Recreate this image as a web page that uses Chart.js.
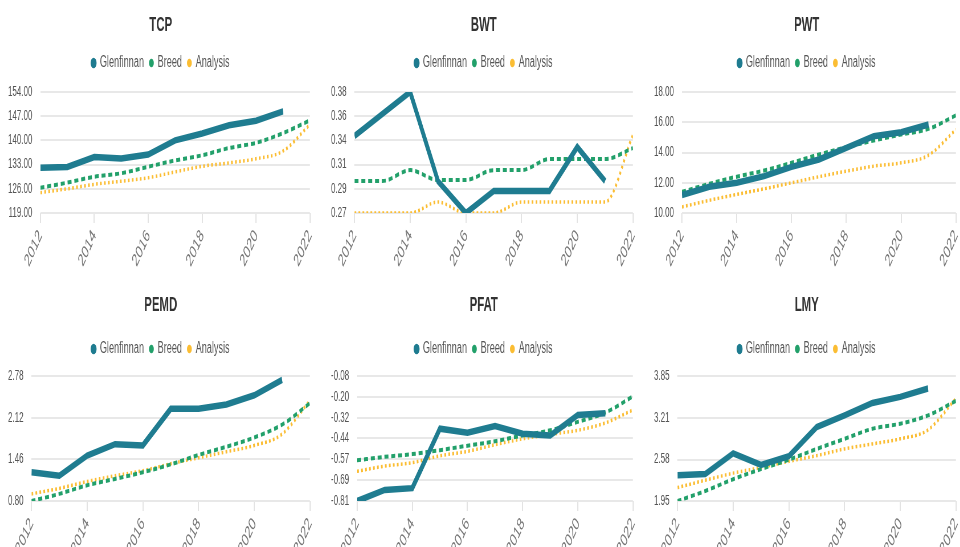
<!DOCTYPE html>
<html lang="en">
<head>
    <meta charset="UTF-8">
    <title>Trait trends</title>
    <script src="https://cdn.jsdelivr.net/npm/chart.js@4.4.1/dist/chart.umd.min.js"></script>
    <style>
        body {
            margin: 0;
            background: #fff;
            width: 960px;
            height: 547px;
            overflow: hidden;
            position: relative;
        }
        /* charts were drawn wide and squeezed horizontally, like the original export */
        .panel {
            position: absolute;
            width: 564px;
            transform: scaleX(0.57);
            transform-origin: 0 0;
        }
        .top { top: 0; height: 274px; }
        .bottom { top: 280px; height: 282px; }
    </style>
</head>
<body>
    <div class="panel top" style="left:0"><canvas id="tcpChart"></canvas></div>
    <div class="panel top" style="left:322.5px"><canvas id="bwtChart"></canvas></div>
    <div class="panel top" style="left:645.5px"><canvas id="pwtChart"></canvas></div>
    <div class="panel bottom" style="left:0"><canvas id="pemdChart"></canvas></div>
    <div class="panel bottom" style="left:322.5px"><canvas id="pfatChart"></canvas></div>
    <div class="panel bottom" style="left:645.5px"><canvas id="lmyChart"></canvas></div>

    <script>
        const years = [2012, 2013, 2014, 2015, 2016, 2017, 2018, 2019, 2020, 2021, 2022];
        const seriesNames = ['Glenfinnan', 'Breed', 'Analysis'];

        // TCP
        const tcpGlen = [132.1, 132.3, 135.2, 134.8, 135.9, 140.0, 142.0, 144.4, 145.7, 148.4];
        const tcpBreed = [126.3, 127.8, 129.5, 130.5, 132.4, 134.2, 135.7, 137.8, 139.3, 142.1, 145.8];
        const tcpAnalysis = [124.9, 126.0, 127.3, 128.2, 129.2, 130.9, 132.5, 133.5, 134.7, 136.9, 144.6];
        const tcpTicks = [119, 126, 133, 140, 147, 154];

        // BWT
        const bwtGlen = [0.340, 0.360, 0.380, 0.299, 0.270, 0.290, 0.290, 0.290, 0.330, 0.299];
        const bwtBreed = [0.299, 0.299, 0.309, 0.300, 0.300, 0.309, 0.309, 0.319, 0.319, 0.319, 0.329];
        const bwtAnalysis = [0.270, 0.270, 0.270, 0.280, 0.270, 0.270, 0.280, 0.280, 0.280, 0.280, 0.341];
        const bwtTicks = [0.27, 0.292, 0.314, 0.336, 0.358, 0.38];

        // PWT
        const pwtGlen = [11.19, 11.73, 12.0, 12.44, 13.05, 13.54, 14.31, 15.08, 15.34, 15.85];
        const pwtBreed = [11.4, 11.93, 12.4, 12.81, 13.32, 13.87, 14.35, 14.79, 15.19, 15.56, 16.46];
        const pwtAnalysis = [10.4, 10.84, 11.23, 11.6, 12.0, 12.4, 12.77, 13.1, 13.32, 13.82, 15.52];
        const pwtTicks = [10, 12, 14, 16, 18];

        // PEMD
        const pemdGlen = [1.255, 1.20, 1.52, 1.70, 1.68, 2.26, 2.26, 2.33, 2.475, 2.72];
        const pemdBreed = [0.80, 0.913, 1.05, 1.15, 1.255, 1.38, 1.53, 1.66, 1.806, 2.01, 2.35];
        const pemdAnalysis = [0.913, 1.00, 1.11, 1.20, 1.28, 1.39, 1.485, 1.58, 1.68, 1.86, 2.39];
        const pemdTicks = [0.80, 1.46, 2.12, 2.78];

        // PFAT
        const pfatGlen = [-0.81, -0.745, -0.735, -0.388, -0.411, -0.372, -0.417, -0.427, -0.308, -0.298];
        const pfatBreed = [-0.572, -0.552, -0.536, -0.513, -0.487, -0.461, -0.427, -0.397, -0.348, -0.294, -0.199];
        const pfatAnalysis = [-0.636, -0.606, -0.586, -0.546, -0.520, -0.481, -0.447, -0.421, -0.397, -0.354, -0.278];
        const pfatTicks = [-0.81, -0.6883, -0.5667, -0.4449, -0.3233, -0.2017, -0.08];

        // LMY
        const lmyGlen = [2.343, 2.36, 2.675, 2.497, 2.63, 3.074, 3.252, 3.441, 3.533, 3.661];
        const lmyBreed = [1.95, 2.103, 2.282, 2.435, 2.578, 2.742, 2.895, 3.048, 3.125, 3.252, 3.472];
        const lmyAnalysis = [2.154, 2.267, 2.374, 2.461, 2.553, 2.64, 2.742, 2.818, 2.895, 3.033, 3.508];
        const lmyTicks = [1.95, 2.581, 3.213, 3.85];

        const colors = ['#1f7c90', '#22a06a', '#fbbd33'];

        Chart.defaults.font.family = "Arial, 'Liberation Sans', sans-serif";
        Chart.defaults.color = '#666';
        Chart.defaults.animation = false;

        // extra room under the legend
        function legendGap(extra) {
            return {
                id: 'legendGap',
                beforeInit(chart) {
                    const fit = chart.legend.fit;
                    chart.legend.fit = function () {
                        fit.bind(chart.legend)();
                        this.height += extra;
                    };
                }
            };
        }

        function toPoints(values) {
            return values.map((v, i) => ({ x: years[i], y: v }));
        }

        function makeChart(id, title, glen, breed, analysis, ticks, titleGap, belowLegend) {
            const ctx = document.getElementById(id).getContext('2d');
            return new Chart(ctx, {
                type: 'line',
                plugins: [legendGap(belowLegend)],
                data: {
                    datasets: [
                        {
                            label: seriesNames[0],
                            data: toPoints(glen),
                            borderColor: colors[0],
                            backgroundColor: colors[0],
                            borderWidth: 6.5,
                            pointRadius: 0,
                            tension: 0
                        },
                        {
                            label: seriesNames[1],
                            data: toPoints(breed),
                            borderColor: colors[1],
                            backgroundColor: colors[1],
                            borderWidth: 4,
                            borderDash: [7, 5],
                            pointRadius: 0,
                            cubicInterpolationMode: 'monotone'
                        },
                        {
                            label: seriesNames[2],
                            data: toPoints(analysis),
                            borderColor: colors[2],
                            backgroundColor: colors[2],
                            borderWidth: 3.5,
                            borderDash: [3, 4],
                            pointRadius: 0,
                            cubicInterpolationMode: 'monotone'
                        }
                    ]
                },
                options: {
                    responsive: true,
                    maintainAspectRatio: false,
                    layout: { padding: { left: 0, right: 0, top: 13 } },
                    plugins: {
                        title: {
                            display: true,
                            text: title,
                            color: '#333',
                            font: { size: 20, weight: 'bold' },
                            padding: { top: 0, bottom: titleGap }
                        },
                        legend: {
                            labels: {
                                usePointStyle: true,
                                pointStyle: 'circle',
                                boxWidth: 6,
                                boxHeight: 6,
                                padding: 10,
                                color: '#555',
                                font: { size: 16 },
                                generateLabels: chart => {
                                    const items = Chart.defaults.plugins.legend.labels.generateLabels(chart);
                                    items.forEach((item, i) => { item.lineWidth = i === 0 ? 2 : 0; });
                                    return items;
                                }
                            }
                        },
                        tooltip: { enabled: false }
                    },
                    scales: {
                        x: {
                            type: 'linear',
                            min: 2012,
                            max: 2022,
                            border: { display: false },
                            grid: {
                                drawOnChartArea: false,
                                color: '#e3e3e3',
                                lineWidth: 2,
                                tickLength: 10
                            },
                            ticks: {
                                stepSize: 2,
                                minRotation: 53,
                                maxRotation: 53,
                                color: '#777',
                                font: { size: 18 },
                                callback: v => String(v)
                            }
                        },
                        y: {
                            min: ticks[0],
                            max: ticks[ticks.length - 1],
                            border: { display: false },
                            afterBuildTicks: axis => {
                                axis.ticks = ticks.map(v => ({ value: v }));
                            },
                            grid: {
                                color: '#e8e8e8',
                                lineWidth: 2,
                                drawTicks: false
                            },
                            ticks: {
                                padding: 14,
                                color: '#555',
                                font: { size: 14 },
                                callback: v => Number(v).toFixed(2)
                            }
                        }
                    }
                }
            });
        }

        makeChart('tcpChart', 'TCP', tcpGlen, tcpBreed, tcpAnalysis, tcpTicks, 8, 11);
        makeChart('bwtChart', 'BWT', bwtGlen, bwtBreed, bwtAnalysis, bwtTicks, 8, 11);
        makeChart('pwtChart', 'PWT', pwtGlen, pwtBreed, pwtAnalysis, pwtTicks, 8, 11);
        makeChart('pemdChart', 'PEMD', pemdGlen, pemdBreed, pemdAnalysis, pemdTicks, 14, 9);
        makeChart('pfatChart', 'PFAT', pfatGlen, pfatBreed, pfatAnalysis, pfatTicks, 14, 9);
        makeChart('lmyChart', 'LMY', lmyGlen, lmyBreed, lmyAnalysis, lmyTicks, 14, 9);
    </script>
</body>
</html>
